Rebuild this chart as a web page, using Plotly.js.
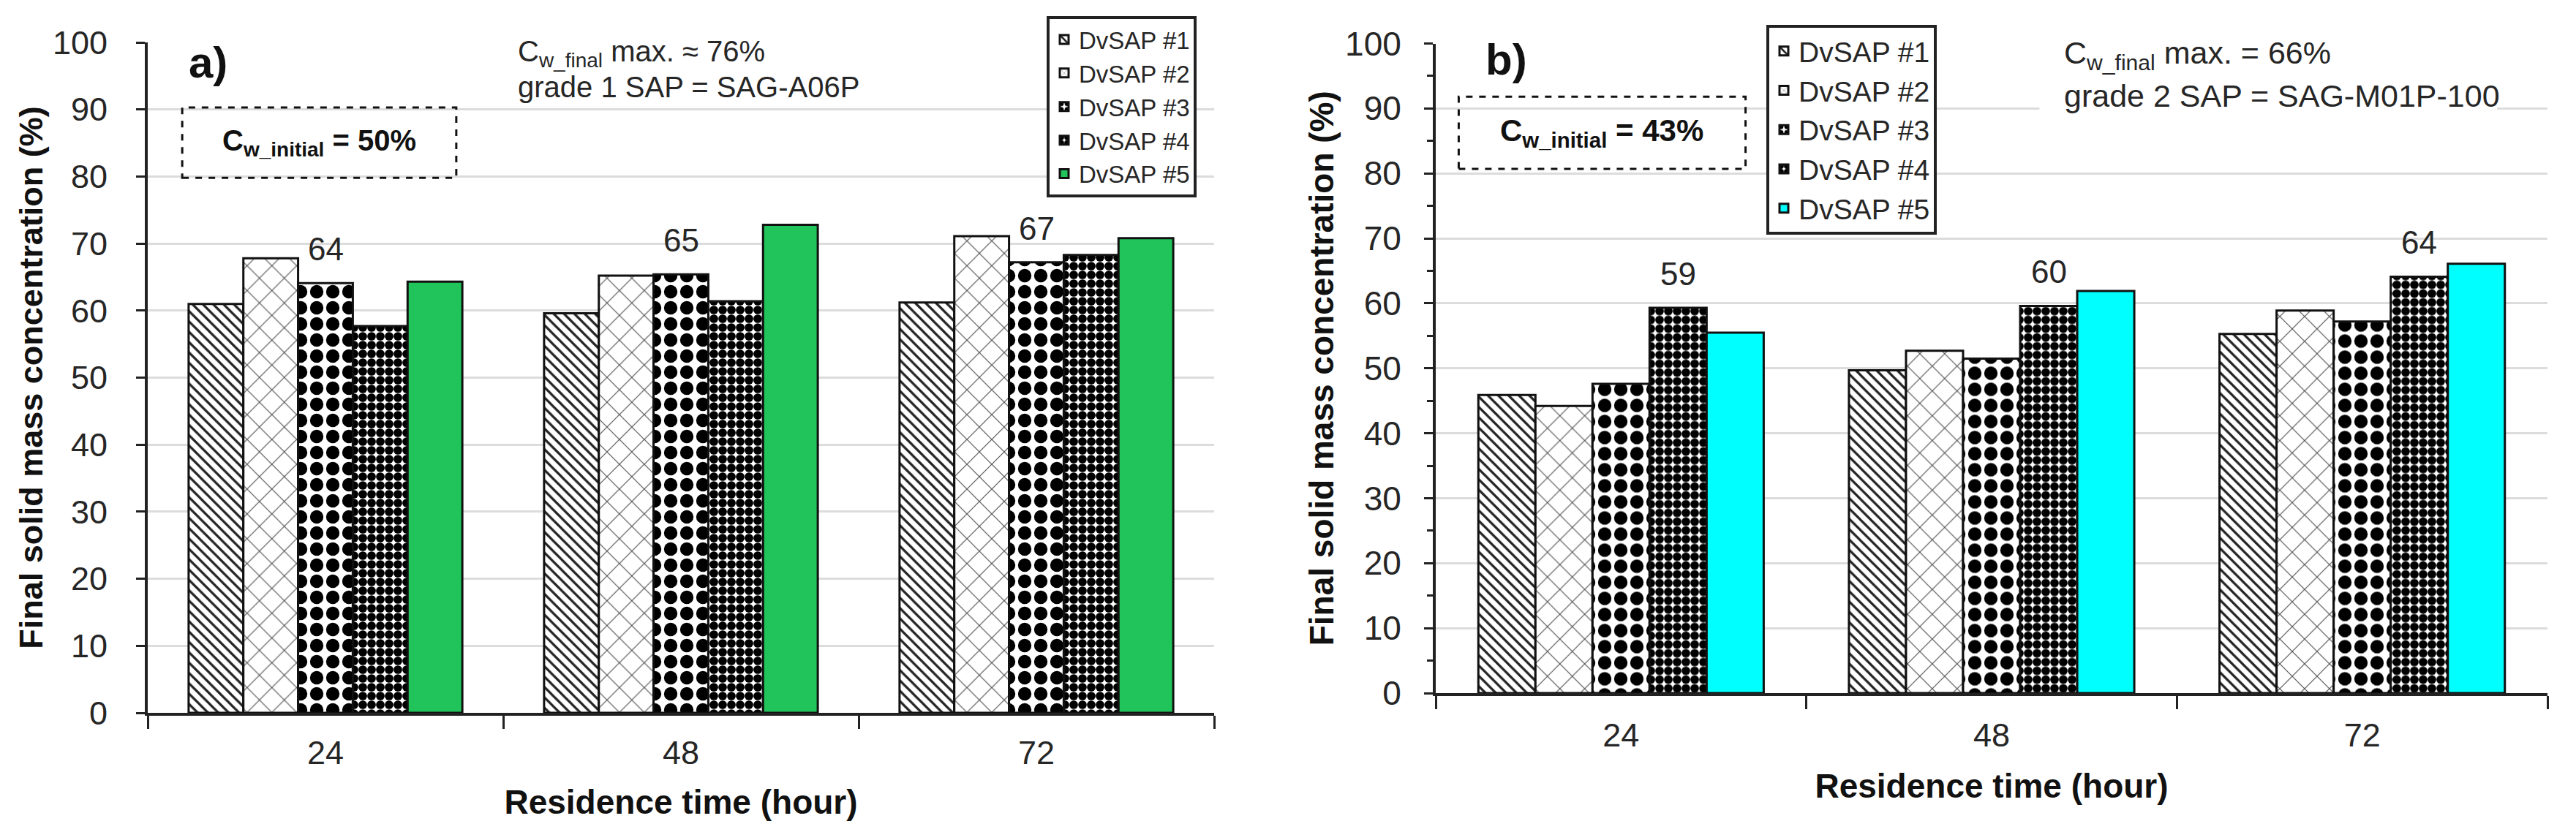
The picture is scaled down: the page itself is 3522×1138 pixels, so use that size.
<!DOCTYPE html>
<html>
<head>
<meta charset="utf-8">
<script src="https://cdn.plot.ly/plotly-3.0.1.min.js"></script>
<style>
  html, body { margin: 0; padding: 0; background: #ffffff; }
  #chart { width: 3522px; height: 1138px; }
</style>
</head>
<body>
<div id="chart"></div>
<script>
// ---------- data ----------
const categories = ['24', '48', '72'];           // residence time (hour)
const seriesNames = ['DvSAP #1', 'DvSAP #2', 'DvSAP #3', 'DvSAP #4', 'DvSAP #5'];
const yTickValues = [0, 10, 20, 30, 40, 50, 60, 70, 80, 90, 100];

// panel a) grade 1 SAP, Cw_initial = 50 %
const a_sap1 = [61.0, 59.6, 61.2];
const a_sap2 = [67.8, 65.2, 71.1];
const a_sap3 = [64.1, 65.4, 67.2];
const a_sap4 = [57.7, 61.4, 68.3];
const a_sap5 = [64.3, 72.8, 70.8];

// panel b) grade 2 SAP, Cw_initial = 43 %
const b_sap1 = [45.9, 49.7, 55.3];
const b_sap2 = [44.2, 52.7, 58.9];
const b_sap3 = [47.6, 51.5, 57.2];
const b_sap4 = [59.3, 59.6, 64.1];
const b_sap5 = [55.5, 61.9, 66.1];

const labelSeriesA = 2;   // value labels drawn above DvSAP #3 in panel a
const labelSeriesB = 3;   // value labels drawn above DvSAP #4 in panel b

// ---------- styles ----------
const SANS = '"Liberation Sans", Arial, Helvetica, sans-serif';
const TXT = '#262626';
const BARGAP = 0.23;

const patterns = [
  { shape: '\\', size: 10, solidity: 0.32, fgcolor: '#222', bgcolor: '#ffffff' },
  { shape: 'x', size: 24, solidity: 0.10, fgcolor: '#555', bgcolor: '#ffffff' },
  { shape: '.', size: 22, solidity: 0.55, fgcolor: '#000', bgcolor: '#ffffff' },
  { shape: '.', size: 12, solidity: 0.75, fgcolor: '#000', bgcolor: '#ffffff' },
  null
];

const aSeries = [a_sap1, a_sap2, a_sap3, a_sap4, a_sap5];
const bSeries = [b_sap1, b_sap2, b_sap3, b_sap4, b_sap5];

function makeTraces(series, lastColor, xa, ya, legendId, prefix) {
  return series.map((vals, i) => {
    const marker = { line: { color: '#111', width: 3 } };
    if (patterns[i]) {
      marker.color = '#ffffff';
      marker.pattern = patterns[i];
    } else {
      marker.color = lastColor;
    }
    return {
      type: 'bar', x: categories, y: vals, name: seriesNames[i],
      xaxis: xa, yaxis: ya, legend: legendId, legendgroup: prefix + i,
      marker: marker, hoverinfo: 'skip'
    };
  });
}

const traces = makeTraces(aSeries, '#21c45b', 'x', 'y', 'legend', 'a')
  .concat(makeTraces(bSeries, '#00ffff', 'x2', 'y2', 'legend2', 'b'));

function barOffset(k) {
  const n = seriesNames.length;
  return (1 - BARGAP) / n * (k - (n - 1) / 2);
}

function valueLabels(series, k, xref, yref) {
  return series[k].map((v, i) => ({
    x: i + barOffset(k), y: v, xref: xref, yref: yref,
    text: String(Math.round(v)), showarrow: false,
    yanchor: 'bottom', yshift: 20,
    font: { family: SANS, size: 44, color: TXT }
  }));
}

function xAxis(domain, anchor, labelStandoff, titleStandoff) {
  return {
    domain: domain, anchor: anchor, type: 'category',
    tickson: 'boundaries', ticks: 'outside', ticklen: 18, tickwidth: 3, tickcolor: '#222',
    ticklabelstandoff: labelStandoff,
    showline: true, linecolor: '#222', linewidth: 4, showgrid: false,
    tickfont: { family: SANS, size: 45, color: TXT },
    title: { text: 'Residence time (hour)', font: { family: SANS, size: 46, color: '#111', weight: 'bold' }, standoff: titleStandoff },
    fixedrange: true
  };
}

function yAxis(domain, anchor, minor, labelStandoff, titleStandoff, fs) {
  const ax = {
    domain: domain, anchor: anchor, range: [0, 100],
    tickvals: yTickValues, ticktext: yTickValues.map(String),
    ticks: 'outside', ticklen: 12, tickwidth: 3, tickcolor: '#222',
    ticklabelstandoff: labelStandoff,
    showline: true, linecolor: '#222', linewidth: 4,
    showgrid: true, gridcolor: '#dcdcdc', gridwidth: 3, zeroline: false,
    tickfont: { family: SANS, size: fs, color: TXT },
    title: { text: 'Final solid mass concentration (%)', font: { family: SANS, size: fs, color: '#111', weight: 'bold' }, standoff: titleStandoff },
    fixedrange: true
  };
  if (minor) ax.minor = { dtick: 5, ticks: 'outside', ticklen: 8, tickwidth: 3, tickcolor: '#222', showgrid: false };
  return ax;
}

const W = 3522, H = 1138;

const annotations = [
  { x: -0.33, y: 97, xref: 'x', yref: 'y', text: 'a)', showarrow: false,
    font: { family: SANS, size: 60, color: '#111', weight: 'bold' } },
  { x: -0.0175, y: 85.05, xref: 'x', yref: 'y', text: 'C<sub>w_initial</sub> = 50%', showarrow: false,
    font: { family: SANS, size: 40, color: '#111', weight: 'bold' } },
  { x: 0.537, y: 98.4, xref: 'x', yref: 'y', xanchor: 'left', showarrow: false,
    text: 'C<sub>w_final</sub> max. ≈ 76%', font: { family: SANS, size: 40, color: TXT } },
  { x: 0.537, y: 93.3, xref: 'x', yref: 'y', xanchor: 'left', showarrow: false,
    text: 'grade 1 SAP = SAG-A06P', font: { family: SANS, size: 40, color: TXT } },
  { x: -0.31, y: 97.5, xref: 'x2', yref: 'y2', text: 'b)', showarrow: false,
    font: { family: SANS, size: 60, color: '#111', weight: 'bold' } },
  { x: -0.051, y: 86.25, xref: 'x2', yref: 'y2', text: 'C<sub>w_initial</sub> = 43%', showarrow: false,
    font: { family: SANS, size: 42, color: '#111', weight: 'bold' } },
  { x: 1.192, y: 98.3, xref: 'x2', yref: 'y2', xanchor: 'left', showarrow: false,
    text: 'C<sub>w_final</sub> max. = 66%', font: { family: SANS, size: 43, color: TXT } },
  { x: 1.192, y: 92.0, xref: 'x2', yref: 'y2', xanchor: 'left', showarrow: false,
    text: 'grade 2 SAP = SAG-M01P-100', font: { family: SANS, size: 43, color: TXT } }
].concat(valueLabels(aSeries, labelSeriesA, 'x', 'y'))
 .concat(valueLabels(bSeries, labelSeriesB, 'x2', 'y2'));

const shapes = [
  { type: 'rect', xref: 'x', yref: 'y', x0: -0.403, x1: 0.368, y0: 79.8, y1: 90.3,
    line: { color: '#111', width: 3, dash: 'dash' }, fillcolor: 'rgba(0,0,0,0)', layer: 'above' },
  { type: 'rect', xref: 'x2', yref: 'y2', x0: 1.129, x1: 2.364, y0: 88.0, y1: 101,
    line: { width: 0 }, fillcolor: '#ffffff', layer: 'above' },
  { type: 'rect', xref: 'x2', yref: 'y2', x0: -0.438, x1: 0.336, y0: 80.7, y1: 91.8,
    line: { color: '#111', width: 3, dash: 'dash' }, fillcolor: 'rgba(0,0,0,0)', layer: 'above' }
];

const layout = {
  width: W, height: H,
  margin: { l: 0, r: 0, t: 0, b: 0 },
  paper_bgcolor: '#ffffff', plot_bgcolor: '#ffffff',
  barmode: 'group', bargap: BARGAP, bargroupgap: 0,
  xaxis: xAxis([202 / W, 1660 / W], 'y', 12, 28),
  yaxis: yAxis([1 - 975 / H, 1 - 58 / H], 'x', false, 30, 0, 45),
  xaxis2: xAxis([1963 / W, 3483 / W], 'y2', 15, 30),
  yaxis2: yAxis([1 - 948 / H, 1 - 59.5 / H], 'x2', true, 22, 2, 46),
  legend: {
    x: 1431 / W, y: 1 - 22 / H, xanchor: 'left', yanchor: 'top',
    bgcolor: '#ffffff', bordercolor: '#222', borderwidth: 4,
    font: { family: SANS, size: 33, color: TXT }, tracegroupgap: 3, traceorder: 'normal'
  },
  legend2: {
    x: 2415 / W, y: 1 - 34 / H, xanchor: 'left', yanchor: 'top',
    bgcolor: '#ffffff', bordercolor: '#222', borderwidth: 4,
    font: { family: SANS, size: 39, color: TXT }, tracegroupgap: 16, traceorder: 'normal'
  },
  showlegend: true,
  annotations: annotations,
  shapes: shapes
};

Plotly.newPlot('chart', traces, layout, { displayModeBar: false, staticPlot: true });
</script>
</body>
</html>
